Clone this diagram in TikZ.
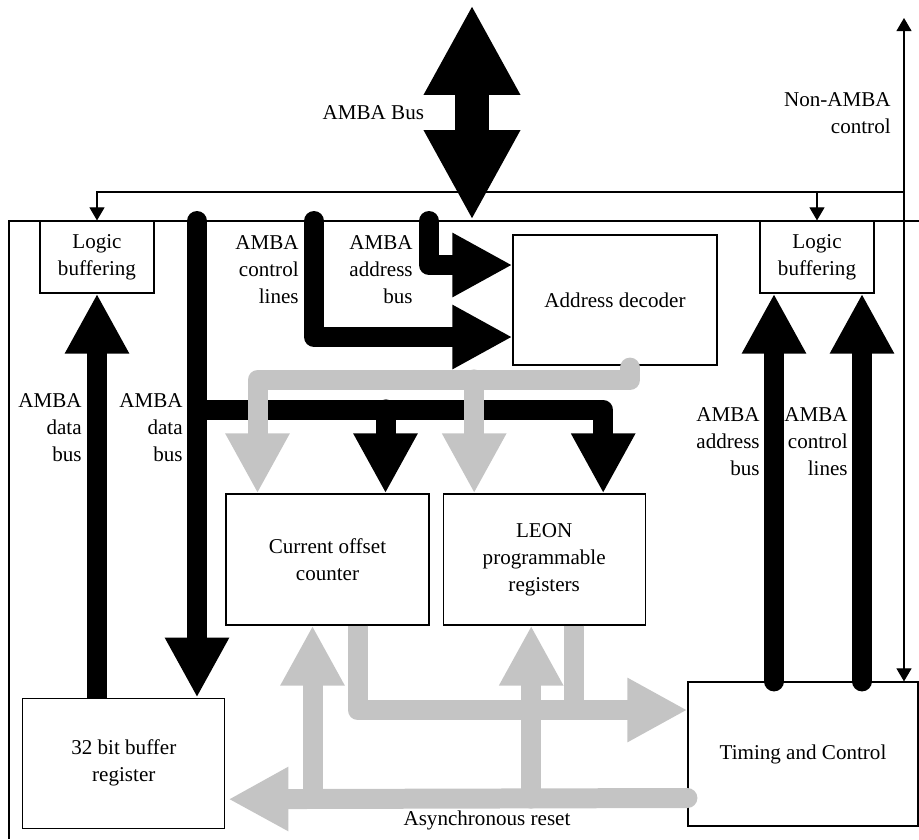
\documentclass[tikz,border=0pt]{standalone}
\usepackage{fontspec}
\setmainfont{Liberation Serif}
\usetikzlibrary{arrows.meta, positioning, calc}
\definecolor{busgray}{RGB}{196,196,196}

\begin{document}
\begin{tikzpicture}[
    x=0.02cm, y=-0.02cm,
    font=\fontsize{12}{15.3}\selectfont,
    box/.style={draw, line width=0.7pt, fill=white, inner sep=0pt, align=center},
    lbl/.style={inner sep=0pt, align=right, anchor=east},
    wire/.style={line width=0.6pt},
    warr/.style={wire, -{Triangle[length=0.26cm, width=0.3cm]}},
    bbus/.style={line width=0.4cm, line cap=round, line join=round,
                 -{Triangle[length=1.2cm, width=1.2cm]}},
    gbus/.style={bbus, busgray}
  ]
  \useasboundingbox (0,0) rectangle (919,839);

  \node[box, minimum width=2.28cm, minimum height=1.44cm] (lbL) at (97,257) {Logic\\buffering};
  \node[box, minimum width=2.28cm, minimum height=1.44cm] (lbR) at (817,257) {Logic\\buffering};
  \node[box, minimum width=4.08cm, minimum height=2.6cm] (dec) at (615,300) {Address decoder};
  \node[box, minimum width=4.06cm, minimum height=2.62cm] (cnt) at (327.5,559.5)
    {Current offset\\counter};
  \node[box, minimum width=4.04cm, minimum height=2.62cm, right=0.26cm of cnt]
    (leon) {LEON\\programmable\\registers};
  \node[box, minimum width=4.04cm, minimum height=2.6cm, below left=1.44cm and 0cm of cnt]
    (buf) {32 bit buffer\\register};
  \node[box, minimum width=4.6cm, minimum height=2.88cm] (tim) at (803,754) {Timing and Control};

  \draw[wire] (9,839) -- (9,221) -- (919,221);

  \coordinate (nac) at (904,18);
  \coordinate (nbr) at (904,192);
  \draw[wire, {Triangle[length=0.26cm, width=0.3cm]}-{Triangle[length=0.26cm, width=0.3cm]}]
    (nac) -- (nac |- tim.north);
  \draw[warr] (nbr) -| (lbL.north);
  \draw[warr] (nbr -| lbR.north) -- (lbR.north);
  \node[lbl] (nacl) at (891,113) {Non-AMBA\\control};

  \coordinate (bustop) at (472,5);
  \coordinate (busbot) at (472,220);
  \draw[line width=0.68cm, {Triangle[length=1.8cm, width=1.8cm]}-{Triangle[length=1.8cm, width=1.8cm]}]
    (bustop) -- (busbot) node[midway, left=0.62cm, inner sep=0pt] (busl) {AMBA Bus};

  \coordinate (dtop) at (197,221);
  \coordinate (ctop) at (314,221);
  \coordinate (atop) at (429,221);
  \coordinate (dsplit) at (197,410);
  \coordinate (rab) at ($(lbR.south)+(-43,0)$);
  \coordinate (rcl) at ($(lbR.south)+(45,0)$);
  \draw[bbus] (dtop) -- (dtop |- buf.north);
  \draw[bbus] (dsplit) -| ($(leon.north)+(59,0)$);
  \draw[bbus] ($(cnt.north)+(58,-84)$) -- ($(cnt.north)+(58,0)$);
  \draw[bbus] (ctop) |- ($(dec.west)+(0,37)$);
  \draw[bbus] (atop) |- ($(dec.west)+(0,-35)$);
  \draw[bbus, line cap=butt] (lbL.south |- buf.north) -- (lbL.south);
  \draw[bbus] (rab |- tim.north) -- (rab);
  \draw[bbus] (rcl |- tim.north) -- (rcl);

  \coordinate (gsplit) at (630,380);
  \draw[gbus] ($(dec.south)+(15,2)$) -- (gsplit) -| ($(cnt.north)+(-70,0)$);
  \draw[gbus] ($(leon.north)+(-70,-114)$) -- ($(leon.north)+(-70,0)$);
  \draw[gbus, line cap=butt] ($(cnt.south)+(30,0)$) |- ($(tim.west)+(0,-44)$);
  \draw[gbus, -, line cap=butt] ($(leon.south)+(30,0)$) -- ($(leon.south)+(30,85)$);
  \draw[gbus] ($(tim.west)+(0,44)$) -- ($(buf.east)+(3,36)$);
  \draw[gbus] ($(cnt.south)+(-15,173)$) -- ($(cnt.south)+(-15,0)$);
  \draw[gbus] ($(leon.south)+(-13,173)$) -- ($(leon.south)+(-13,0)$);

  \node[lbl] (lcl) at (299,270) {AMBA\\control\\lines};
  \node[lbl] (lab) at (413,270) {AMBA\\address\\bus};
  \node[lbl] (ldb1) at (82,428) {AMBA\\data\\bus};
  \node[lbl] (ldb2) at (183,428) {AMBA\\data\\bus};
  \node[lbl] (rabl) at (760,442) {AMBA\\address\\bus};
  \node[lbl] (rcll) at (848,442) {AMBA\\control\\lines};
  \node[inner sep=0pt] (rst) at (487,820) {Asynchronous reset};
\end{tikzpicture}
\end{document}
